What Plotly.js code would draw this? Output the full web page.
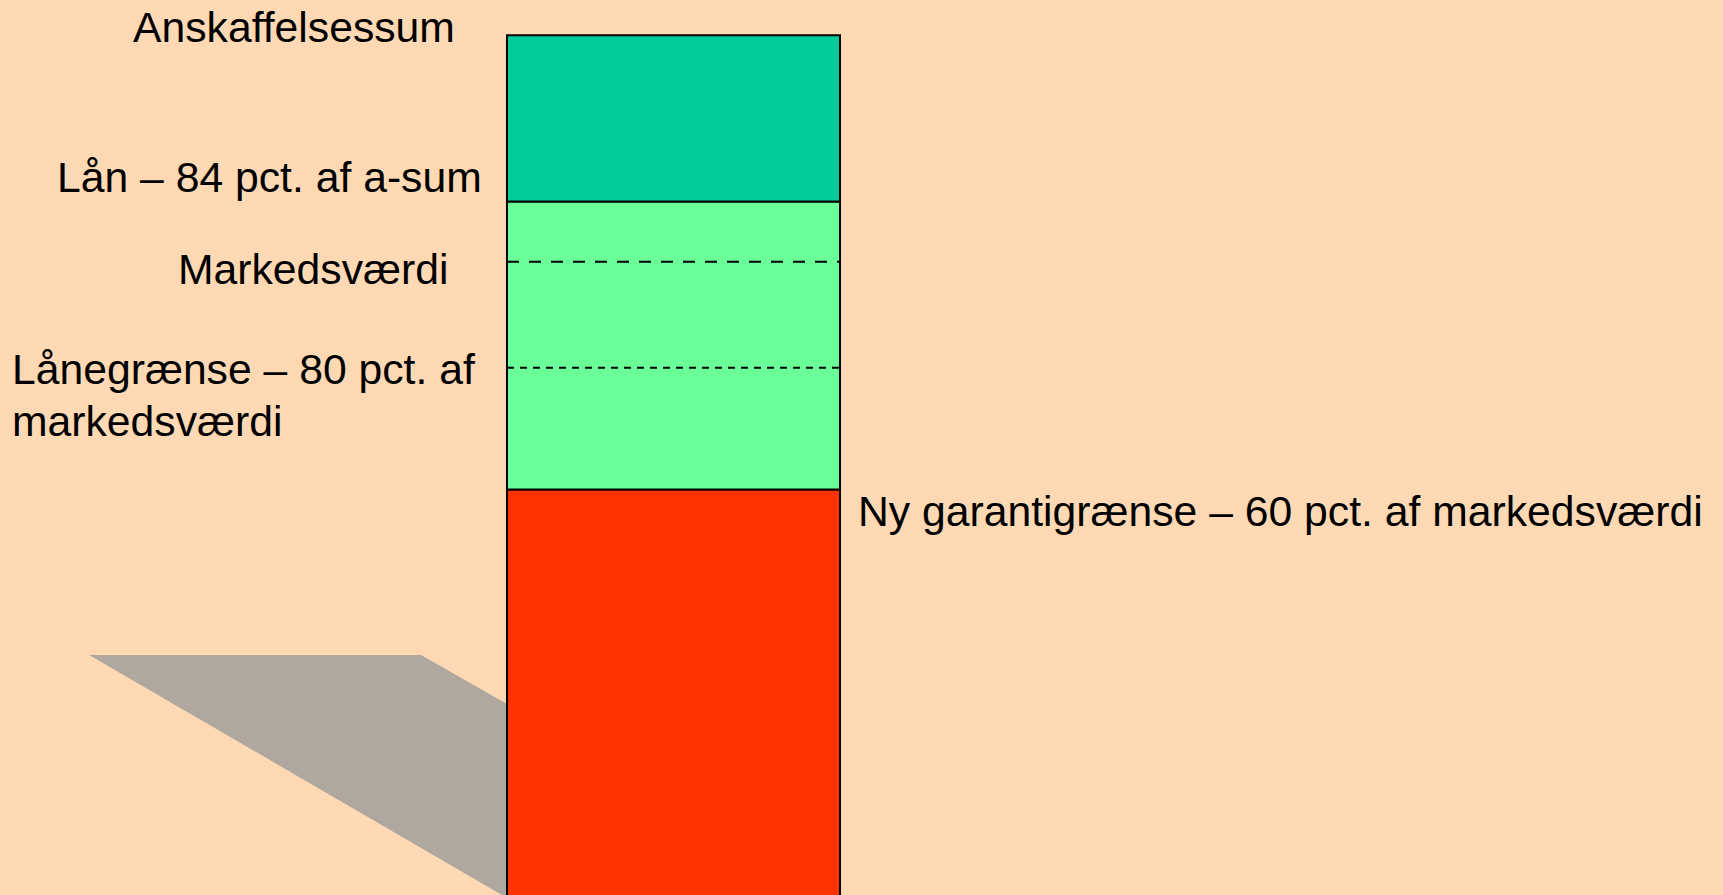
<!DOCTYPE html>
<html>
<head>
<meta charset="utf-8">
<script src="https://cdn.plot.ly/plotly-3.0.1.min.js"></script>
<style>
  html, body { margin: 0; padding: 0; background: #FFD9B3; overflow: hidden; }
  #chart { width: 1723px; height: 895px; }
</style>
</head>
<body>
<div id="chart"></div>
<script>
// ---- Data (schematic levels) ----
const levelNames = [
  'Anskaffelsessum',
  'Lån – 84 pct. af a-sum',
  'Markedsværdi',
  'Lånegrænse – 80 pct. af',
  'markedsværdi',
  'Ny garantigrænse – 60 pct. af markedsværdi'
];
const levelValues = [100, 84, 78.2, 68, 56.3];

// stacked segments of the single bar (bottom to top)
const segmentBases  = [0, 56.3, 84];
const segmentTops   = [56.3, 84, 100];
const segmentColors = ['#FF3300', '#6BFF99', '#00CC99'];

// dashed reference levels inside the bar
const dashedLevels = [78.2, 68];
const dashedStyles = ['12px,10px', '7px,6px'];

const barCategory = [0];

// ---- Traces ----
const traces = [];
for (let i = 0; i < segmentBases.length; i++) {
  traces.push({
    type: 'bar',
    x: barCategory,
    y: [segmentTops[i] - segmentBases[i]],
    base: [segmentBases[i]],
    width: 1,
    marker: { color: segmentColors[i], line: { color: '#000000', width: 2 } },
    hoverinfo: 'skip',
    showlegend: false
  });
}
for (let i = 0; i < dashedLevels.length; i++) {
  traces.push({
    type: 'scatter',
    mode: 'lines',
    x: [barCategory[0] - 0.5, barCategory[0] + 0.5],
    y: [dashedLevels[i], dashedLevels[i]],
    line: { color: '#000000', width: 2, dash: dashedStyles[i] },
    hoverinfo: 'skip',
    showlegend: false
  });
}

// ---- Label placement (paper coords, from pixel positions) ----
const W = 1723, H = 895;
const labelPx = [
  [131, 1],
  [55, 151],
  [176, 243],
  [10, 343],
  [10, 395],
  [856, 485]
];
const annotations = levelNames.map((t, i) => ({
  text: t,
  xref: 'paper', yref: 'paper',
  x: labelPx[i][0] / W,
  y: 1 - labelPx[i][1] / H,
  xanchor: 'left', yanchor: 'top',
  align: 'left',
  showarrow: false,
  font: { family: 'Liberation Sans, Arial, sans-serif', size: 42.7, color: '#000000' }
}));

const layout = {
  width: W, height: H,
  margin: { l: 0, r: 0, t: 0, b: 0, pad: 0 },
  paper_bgcolor: '#FFD9B3',
  plot_bgcolor: '#FFD9B3',
  barmode: 'overlay',
  showlegend: false,
  hovermode: false,
  xaxis: { range: [-2.0225, 3.1517], visible: false, fixedrange: true },
  yaxis: { range: [17.28, 103.39], visible: false, fixedrange: true },
  shapes: [{
    type: 'path',
    xref: 'x', yref: 'y',
    path: 'M -1.755 40.37 L -0.758 40.37 L -0.5 35.66 L -0.5 17.0 L -1.755 40.37 Z',
    fillcolor: '#B0A89F',
    line: { width: 0 },
    layer: 'below'
  }],
  annotations: annotations
};

Plotly.newPlot('chart', traces, layout, { displayModeBar: false, staticPlot: true });
</script>
</body>
</html>
